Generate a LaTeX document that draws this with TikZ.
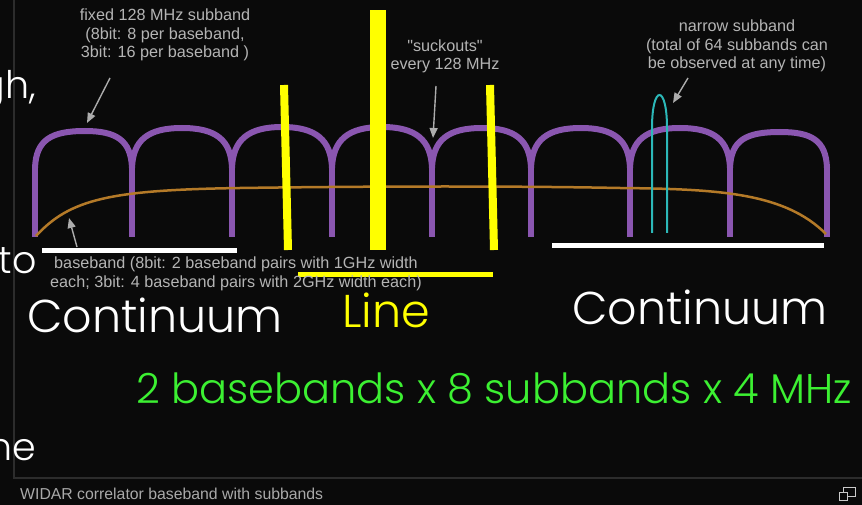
\documentclass[tikz,border=0pt]{standalone}
\usepackage{fontspec}
\setmainfont{Liberation Sans}[Ligatures=TeXOff]
\newfontfamily\gothic{Poppins Light}
\usetikzlibrary{arrows.meta}
\definecolor{bg}{HTML}{0A0A0A}
\definecolor{sub}{HTML}{8A56B0}
\definecolor{bb}{HTML}{B47A28}
\definecolor{nar}{HTML}{2CB8B8}
\definecolor{note}{HTML}{B4B4B4}
\definecolor{grn}{HTML}{3CF032}
\definecolor{framec}{HTML}{2C2C2C}
\definecolor{yel}{HTML}{FFFF00}
\tikzset{
  subband/.style={draw=sub, line width=6pt},
  bbline/.style={draw=bb, line width=2.5pt},
  narrowline/.style={draw=nar, line width=2pt},
  yline/.style={draw=yel},
  wline/.style={draw=white, line width=5pt},
  notetext/.style={text=note, font=\fontsize{16.2}{18.5}\selectfont, align=center, inner sep=0pt},
  notearrow/.style={draw=note!110, line width=1.4pt, -{Triangle[width=8pt,length=10pt]}},
  bigtext/.style={font=\gothic\fontsize{46}{50}\selectfont, inner sep=0pt},
  sidetext/.style={font=\gothic\fontsize{38}{42}\selectfont, inner sep=0pt, text=white},
}
\begin{document}
\begin{tikzpicture}[x=1pt,y=-1pt]
\fill[bg] (0,0) rectangle (862,505);
\useasboundingbox (0,0) rectangle (862,505);
% panel frame
\draw[framec, line width=1.2pt] (14,0) -- (14,478) -- (862,478);
% subband humps
\foreach \a/\b/\t in {35/132/131, 132/232/128, 232/332/127, 332/432/127, 432/531/128, 531/630/128, 630/730/128, 730/827/132}{
  \draw[subband] (\a,168) .. controls (\a+1,140) and (\a+16,\t) .. (\a+50,\t) .. controls (\b-16,\t) and (\b-1,140) .. (\b,168);
}
\foreach \x in {35,132,232,332,432,531,630,730,827}{
  \draw[subband] (\x,168) -- (\x,237);
}
% baseband
\draw[bbline] (36,236) .. controls (70,199) and (110,190) .. (240,188) .. controls (380,186) and (520,186) .. (620,188) .. controls (720,189) and (785,193) .. (826,234);
% narrow subband
\draw[narrowline] (652,233) -- (652,128) .. controls (652,84) and (667,84) .. (667,128) -- (667,233);
% yellow markers
\fill[yel] (370,10) rectangle (386,250);
\draw[yline, line width=8pt] (284,85) -- (288,250);
\draw[yline, line width=8pt] (490,85) -- (494,250);
\draw[yline, line width=5pt] (298,274) -- (493,274);
% white continuum bars
\draw[wline] (42,250) -- (237,250);
\draw[wline] (552,245.5) -- (824,245.5);
% annotations
\node[notetext] (fixed) at (165,35) {fixed 128 MHz subband\\(8bit: 8 per baseband,\\3bit: 16 per baseband )};
\node[notetext] (suck) at (445,56.5) {"suckouts"\\every 128 MHz};
\node[notetext] (narrow) at (737,46) {narrow subband\\(total of 64 subbands can\\be observed at any time)};
\node[notetext] (base) at (236,274) {baseband (8bit: 2 baseband pairs with 1GHz width\\each; 3bit: 4 baseband pairs with 2GHz width each)};
\coordinate (fixA) at (110,78); \coordinate (fixB) at (87,123);
\coordinate (suckA) at (436,86); \coordinate (suckB) at (433,138);
\coordinate (narA) at (688,78); \coordinate (narB) at (673,103);
\coordinate (baseA) at (77,247); \coordinate (baseB) at (69,218);
\draw[notearrow] (fixA) -- (fixB);
\draw[notearrow] (suckA) -- (suckB);
\draw[notearrow] (narA) -- (narB);
\draw[notearrow] (baseA) -- (baseB);
% big labels
\node[bigtext, text=white, anchor=base west] (contL) at (27,332) {Continuum};
\node[bigtext, text=yel, anchor=base west] (line) at (342,327) {Line};
\node[bigtext, text=white, anchor=base west] (contR) at (572,324) {Continuum};
\node[bigtext, text=grn, anchor=base east, font=\gothic\fontsize{41.5}{45}\selectfont] (sum) at (852,403) {2 basebands x 8 subbands x 4 MHz};
% clipped slide words at left
\node[sidetext, anchor=base east] (w1) at (36,99) {gh,};
\node[sidetext, anchor=base east] (w2) at (37,273) {to};
\node[sidetext, anchor=base east] (w3) at (36,460) {ne};
% caption
\node[anchor=base west, inner sep=0pt, text=note!115, font=\fontsize{15.8}{18}\selectfont] (cap) at (20,499) {WIDAR correlator baseband with subbands};
% icon
\draw[note!70, line width=1pt] (843,487) rectangle (855,496);
\draw[note!70, line width=1pt, fill=bg] (839,492) rectangle (847,500);
\end{tikzpicture}
\end{document}
